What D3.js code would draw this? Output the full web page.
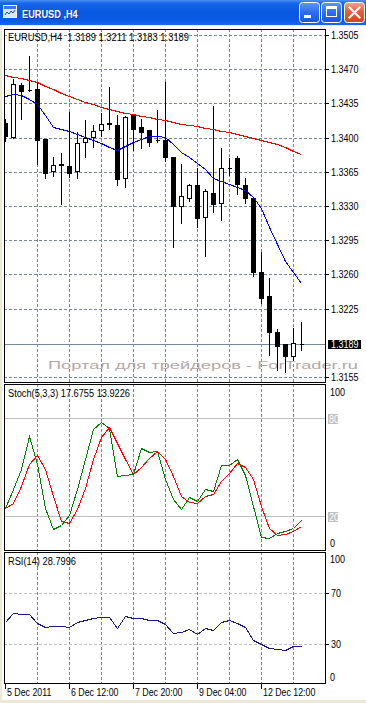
<!DOCTYPE html>
<html>
<head>
<meta charset="utf-8">
<script src="https://d3js.org/d3.v7.min.js"></script>
<style>
  html, body { margin: 0; padding: 0; background: #ece9d8; }
  svg { display: block; }
  text { font-family: 'Liberation Sans', Arial, sans-serif; font-size: 10px; white-space: pre; }
  .ind { shape-rendering: crispEdges; }
</style>
</head>
<body>
<svg id="chart" width="366" height="703"></svg>
<script>
// EURUSD H4 - MetaTrader style window

const symbol = 'EURUSD';
const period = 'H4';

const times = [
  '2011.12.05 04:00', '2011.12.05 08:00', '2011.12.05 12:00', '2011.12.05 16:00', '2011.12.05 20:00',
  '2011.12.06 00:00', '2011.12.06 04:00', '2011.12.06 08:00', '2011.12.06 12:00', '2011.12.06 16:00', '2011.12.06 20:00',
  '2011.12.07 00:00', '2011.12.07 04:00', '2011.12.07 08:00', '2011.12.07 12:00', '2011.12.07 16:00', '2011.12.07 20:00',
  '2011.12.08 00:00', '2011.12.08 04:00', '2011.12.08 08:00', '2011.12.08 12:00', '2011.12.08 16:00', '2011.12.08 20:00',
  '2011.12.09 00:00', '2011.12.09 04:00', '2011.12.09 08:00', '2011.12.09 12:00', '2011.12.09 16:00', '2011.12.09 20:00',
  '2011.12.12 00:00', '2011.12.12 04:00', '2011.12.12 08:00', '2011.12.12 12:00', '2011.12.12 16:00', '2011.12.12 20:00',
  '2011.12.13 00:00', '2011.12.13 04:00', '2011.12.13 08:00',
];

const open = [
  1.3415, 1.3401, 1.3454, 1.3449, 1.3450, 1.3399, 1.3366, 1.3373, 1.3371, 1.3366,
  1.3396, 1.3401, 1.3408, 1.3415, 1.3413, 1.3359, 1.3423, 1.3411, 1.3408, 1.3398,
  1.3398, 1.3380, 1.3330, 1.3338, 1.3352, 1.3319, 1.3343, 1.3333, 1.3369, 1.3379,
  1.3352, 1.3338, 1.3262, 1.3238, 1.3201, 1.3189, 1.3176, 1.3189,
];
const high = [
  1.3419, 1.3460, 1.3456, 1.3484, 1.3456, 1.3399, 1.3380, 1.3384, 1.3426, 1.3406,
  1.3418, 1.3413, 1.3425, 1.3452, 1.3423, 1.3422, 1.3424, 1.3419, 1.3408, 1.3428,
  1.3457, 1.3380, 1.3373, 1.3353, 1.3369, 1.3347, 1.3432, 1.3389, 1.3379, 1.3381,
  1.3359, 1.3338, 1.3283, 1.3256, 1.3204, 1.3189, 1.3205, 1.3211,
];
const low = [
  1.3397, 1.3400, 1.3419, 1.3448, 1.3373, 1.3359, 1.3361, 1.3332, 1.3360, 1.3359,
  1.3380, 1.3390, 1.3402, 1.3409, 1.3351, 1.3349, 1.3387, 1.3389, 1.3391, 1.3396,
  1.3376, 1.3288, 1.3313, 1.3335, 1.3308, 1.3279, 1.3324, 1.3316, 1.3362, 1.3342,
  1.3333, 1.3258, 1.3231, 1.3178, 1.3162, 1.3160, 1.3172, 1.3183,
];
const close = [
  1.3402, 1.3455, 1.3448, 1.3449, 1.3398, 1.3364, 1.3372, 1.3372, 1.3364, 1.3394,
  1.3400, 1.3407, 1.3414, 1.3414, 1.3358, 1.3421, 1.3409, 1.3406, 1.3396, 1.3398,
  1.3380, 1.3330, 1.3340, 1.3351, 1.3318, 1.3345, 1.3332, 1.3369, 1.3369, 1.3353,
  1.3338, 1.3262, 1.3236, 1.3201, 1.3187, 1.3177, 1.3190, 1.3189,
];

// moving averages on the price chart
const maFast = [
  1.3443, 1.3445, 1.3444, 1.3440, 1.3434, 1.3423, 1.3411, 1.3409, 1.3407, 1.3404,
  1.3401, 1.3398, 1.3394, 1.3390, 1.3387, 1.3391, 1.3395, 1.3399, 1.3402, 1.3402,
  1.3401, 1.3393, 1.3385, 1.3380, 1.3374, 1.3368, 1.3359, 1.3356, 1.3353, 1.3349,
  1.3346, 1.3339, 1.3328, 1.3308, 1.3291, 1.3274, 1.3262, 1.3251,
];
const maSlow = [
  1.3464, 1.3462, 1.3461, 1.3459, 1.3457, 1.3453, 1.3450, 1.3446, 1.3443, 1.3439,
  1.3436, 1.3434, 1.3431, 1.3429, 1.3427, 1.3425, 1.3424, 1.3422, 1.3421, 1.3419,
  1.3418, 1.3416, 1.3414, 1.3413, 1.3412, 1.3410, 1.3409, 1.3407, 1.3406, 1.3404,
  1.3402, 1.3400, 1.3398, 1.3396, 1.3393, 1.3390, 1.3386, 1.3383,
];

const stochMain = [
  25.3, 36.4, 48.6, 68.8, 51.6, 25.3, 12.1, 14.7, 20.6, 36.4,
  54.7, 72.9, 77.3, 73.9, 44.5, 45.1, 45.9, 61.7, 59.3, 59.7,
  42.5, 30.7, 24.3, 31.6, 29.3, 36.4, 35.4, 51.0, 51.0, 55.1,
  44.9, 26.3, 7.6, 7.0, 9.7, 10.7, 13.1, 17.6755,
];
const stochSignal = [
  25.3, 27.9, 38.4, 51.6, 57.1, 48.6, 32.4, 17.2, 15.7, 24.3,
  37.4, 54.7, 68.4, 74.3, 64.8, 54.7, 45.5, 50.2, 55.3, 59.7,
  54.7, 44.5, 32.4, 28.7, 27.9, 32.4, 33.4, 41.5, 46.5, 52.2,
  50.2, 42.5, 26.3, 13.1, 8.7, 9.1, 11.1, 13.9226,
];
const rsi = [
  47.5, 54.0, 53.2, 53.2, 46.3, 43.2, 44.2, 44.2, 43.4, 47.5,
  48.8, 50.6, 51.2, 51.2, 42.4, 52.2, 50.1, 50.1, 48.6, 48.6,
  45.5, 38.5, 39.8, 41.9, 38.0, 42.9, 40.8, 47.5, 48.6, 46.3,
  43.7, 33.3, 30.2, 27.4, 26.1, 25.3, 28.7, 28.7996,
];

const priceTicks = [1.3505, 1.3470, 1.3435, 1.3400, 1.3365, 1.3330, 1.3295, 1.3260, 1.3225, 1.3155];
const gridTimes = [
  '2011.12.05 20:00', '2011.12.06 12:00', '2011.12.07 04:00', '2011.12.07 20:00', '2011.12.08 12:00',
  '2011.12.09 04:00', '2011.12.09 20:00', '2011.12.12 12:00', '2011.12.13 04:00',
];
const labelTimes = ['2011.12.05 04:00', '2011.12.06 12:00', '2011.12.07 20:00', '2011.12.09 04:00', '2011.12.12 12:00'];
const tickLabels = ['5 Dec 2011', '6 Dec 12:00', '7 Dec 20:00', '9 Dec 04:00', '12 Dec 12:00'];
const stochLevels = [80, 20];
const rsiLevels = [70, 30];

const GRID = '#778899';
const LEVEL = '#c0c0c0';
const FONT = "'Liberation Sans', Arial, sans-serif";

const svg = d3.select('#chart');
const defs = svg.append('defs');

// panel boxes
const P = {
  main: { x0: 4, x1: 325, y0: 29, y1: 382 },
  stoch: { x0: 4, x1: 325, y0: 384, y1: 550 },
  rsi: { x0: 4, x1: 325, y0: 552, y1: 683 },
};

// scales
const x = d3.scalePoint().domain(times).range([5, 301]);
const y = d3.scaleLinear().domain([1.3155, 1.3505]).rangeRound([377, 35]);
const ys = d3.scaleLinear().domain([0, 100]).rangeRound([549, 385]);
const yr = d3.scaleLinear().domain([0, 100]).rangeRound([683, 554]);

// squeeze Arial-ish text to look like Tahoma
function squeeze(sel, k) {
  sel.each(function() {
    const w = this.getComputedTextLength();
    d3.select(this).attr('textLength', w * k).attr('lengthAdjust', 'spacingAndGlyphs');
  });
}

// ---------- window chrome ----------
const tb = defs.append('linearGradient').attr('id', 'tb').attr('x1', 0).attr('y1', 0).attr('x2', 0).attr('y2', 1);
[[0, '#4b93f7'], [0.12, '#1a66ea'], [0.5, '#0857e2'], [0.85, '#0b5be8'], [1, '#1b68ee']].forEach(([o, c]) =>
  tb.append('stop').attr('offset', o).attr('stop-color', c));
const bg = defs.append('linearGradient').attr('id', 'btn').attr('x1', 0).attr('y1', 0).attr('x2', 0).attr('y2', 1);
[[0, '#5a9af8'], [0.5, '#2e6cf0'], [1, '#1b55d8']].forEach(([o, c]) =>
  bg.append('stop').attr('offset', o).attr('stop-color', c));
const cg = defs.append('linearGradient').attr('id', 'cls').attr('x1', 0).attr('y1', 0).attr('x2', 0).attr('y2', 1);
[[0, '#f0a68a'], [0.45, '#e2603d'], [1, '#cc4424']].forEach(([o, c]) =>
  cg.append('stop').attr('offset', o).attr('stop-color', c));

svg.append('rect').attr('width', 366).attr('height', 703).attr('fill', '#ece9d8');
svg.append('rect').attr('x', 2).attr('y', 26).attr('width', 364).attr('height', 674).attr('fill', '#fff');
svg.append('rect').attr('width', 366).attr('height', 25).attr('fill', 'url(#tb)');

// title icon
const icon = svg.append('g').attr('transform', 'translate(3,5)');
icon.append('rect').attr('x', 0.5).attr('y', 0.5).attr('width', 13).attr('height', 12).attr('fill', '#d8e6fb').attr('stroke', '#eef4ff');
icon.append('rect').attr('x', 1).attr('y', 1).attr('width', 12).attr('height', 3).attr('fill', '#3a78e6');
icon.append('path').attr('d', 'M2,10 L4,7 L6,9 L8,6 L10,8 L12,5').attr('fill', 'none').attr('stroke', '#1d4fb8').attr('stroke-width', 1);

svg.append('text').attr('x', 23).attr('y', 18.5).attr('fill', '#0a1a70').attr('opacity', 0.6)
  .attr('font-size', 13).attr('font-weight', 'bold').text(`${symbol} ,${period}`).call(squeeze, 0.92);
svg.append('text').attr('x', 22).attr('y', 17.5).attr('fill', '#fff')
  .attr('font-size', 13).attr('font-weight', 'bold').text(`${symbol} ,${period}`).call(squeeze, 0.92);

const btns = svg.append('g');
[299, 321].forEach(bx => {
  btns.append('rect').attr('x', bx + 0.5).attr('y', 2.5).attr('width', 20).attr('height', 20).attr('rx', 3)
    .attr('fill', 'url(#btn)').attr('stroke', '#fff');
});
btns.append('rect').attr('x', 344.5).attr('y', 2.5).attr('width', 20).attr('height', 20).attr('rx', 3)
  .attr('fill', 'url(#cls)').attr('stroke', '#fff');
btns.append('rect').attr('x', 304).attr('y', 15).attr('width', 7).attr('height', 3).attr('fill', '#fff');
btns.append('rect').attr('x', 326.5).attr('y', 6.5).attr('width', 10).attr('height', 10).attr('fill', 'none').attr('stroke', '#fff');
btns.append('rect').attr('x', 326).attr('y', 6).attr('width', 11).attr('height', 3).attr('fill', '#fff');
btns.append('path').attr('d', 'M349.5,7.5 L359.5,17.5 M359.5,7.5 L349.5,17.5')
  .attr('stroke', '#fff').attr('stroke-width', 2.2).attr('stroke-linecap', 'square');

// ---------- panels ----------
Object.entries(P).forEach(([k, p]) => {
  defs.append('clipPath').attr('id', `clip-${k}`)
    .append('rect').attr('x', p.x0 + 1).attr('y', p.y0 + 1).attr('width', p.x1 - p.x0 - 1).attr('height', p.y1 - p.y0 - 1);
});

function vgrid(p, key) {
  svg.append('g').attr('clip-path', `url(#clip-${key})`)
    .selectAll('line').data(gridTimes).join('line')
    .attr('x1', d => x(d) + 0.5).attr('x2', d => x(d) + 0.5)
    .attr('y1', p.y0).attr('y2', p.y1)
    .attr('stroke', GRID).attr('stroke-dasharray', '3,2');
}

// main price panel
const pm = P.main;
svg.append('g').attr('clip-path', 'url(#clip-main)')
  .selectAll('line').data(priceTicks).join('line')
  .attr('x1', pm.x0).attr('x2', pm.x1)
  .attr('y1', d => y(d) + 0.5).attr('y2', d => y(d) + 0.5)
  .attr('stroke', GRID).attr('stroke-dasharray', '3,2');
vgrid(pm, 'main');

// watermark
svg.append('text').attr('x', 48).attr('y', 368.5)
  .attr('font-family', "'DejaVu Sans', sans-serif").attr('font-size', 16).attr('fill', '#b3a8a8')
  .attr('textLength', 310).attr('lengthAdjust', 'spacingAndGlyphs')
  .text('Портал для трейдеров - ForTrader.ru');

// current price line
const last = times.length - 1;
svg.append('line').attr('x1', pm.x0).attr('x2', pm.x1)
  .attr('y1', y(close[last]) + 0.5).attr('y2', y(close[last]) + 0.5).attr('stroke', GRID);

const chartG = svg.append('g').attr('clip-path', 'url(#clip-main)');
const bars = times.map((t, i) => ({ t, o: open[i], h: high[i], l: low[i], c: close[i] }));

chartG.selectAll('line.wick').data(bars).join('line').attr('class', 'wick')
  .attr('x1', d => x(d.t) + 0.5).attr('x2', d => x(d.t) + 0.5)
  .attr('y1', d => y(d.h)).attr('y2', d => y(d.l) + 1)
  .attr('stroke', '#000').attr('shape-rendering', 'crispEdges');

chartG.selectAll('path.body').data(bars).join('path').attr('class', 'body')
  .attr('d', d => {
    const top = y(Math.max(d.o, d.c)) + 0.5;
    const bot = y(Math.min(d.o, d.c)) + 0.5;
    const cx = x(d.t);
    return `M${cx - 1.5},${top}H${cx + 2.5}V${bot}H${cx - 1.5}Z`;
  })
  .attr('fill', d => (d.c > d.o ? '#fff' : '#000'))
  .attr('stroke', '#000').attr('shape-rendering', 'crispEdges');

const priceLine = vals => d3.line().x((d, i) => x(times[i]) + 0.5).y(d => y(d) + 0.5)(vals);
chartG.append('path').attr('class', 'ind').attr('d', priceLine(maSlow)).attr('fill', 'none').attr('stroke', '#ff0000');
chartG.append('path').attr('class', 'ind').attr('d', priceLine(maFast)).attr('fill', 'none').attr('stroke', '#0000ff');

// price axis
const yAxis = d3.axisRight(y).tickValues(priceTicks).tickFormat(d3.format('.4f')).tickSize(3).tickPadding(2);
svg.append('g').attr('transform', `translate(${pm.x1 + 1},0)`).call(yAxis)
  .attr('font-family', FONT)
  .call(g => g.select('.domain').remove())
  .call(g => g.selectAll('line').attr('stroke', '#000'))
  .call(g => g.selectAll('text').attr('fill', '#000').call(squeeze, 0.9));

// current price tag
const tagY = y(close[last]);
svg.append('rect').attr('x', 328).attr('y', tagY - 4).attr('width', 33).attr('height', 9).attr('fill', '#000');
svg.append('text').attr('x', 331).attr('y', tagY + 0.5).attr('dy', '0.35em').attr('fill', '#fff')
  .text(close[last].toFixed(4)).call(squeeze, 0.9);

svg.append('text').attr('x', 8).attr('y', 40.5)
  .text(`${symbol},${period}  ${open[last].toFixed(4)} ${high[last].toFixed(4)} ${low[last].toFixed(4)} ${close[last].toFixed(4)}`)
  .attr('textLength', 181).attr('lengthAdjust', 'spacingAndGlyphs');

// stochastic panel
const pst = P.stoch;
vgrid(pst, 'stoch');
svg.append('g').selectAll('line').data(stochLevels).join('line')
  .attr('x1', pst.x0).attr('x2', pst.x1)
  .attr('y1', d => ys(d) + 0.5).attr('y2', d => ys(d) + 0.5).attr('stroke', LEVEL);
const stG = svg.append('g').attr('clip-path', 'url(#clip-stoch)');
const stLine = d3.line().x((d, i) => x(times[i]) + 0.5).y(d => ys(d) + 0.5);
stG.append('path').attr('class', 'ind').attr('d', stLine(stochSignal)).attr('fill', 'none').attr('stroke', '#ff0000');
stG.append('path').attr('class', 'ind').attr('d', stLine(stochMain)).attr('fill', 'none').attr('stroke', '#008000');

svg.append('text').attr('x', 330).attr('y', ys(100) + 7).attr('dy', '0.35em').text('100').call(squeeze, 0.9);
svg.append('text').attr('x', 330).attr('y', ys(0) - 6).attr('dy', '0.35em').text('0').call(squeeze, 0.9);
stochLevels.forEach(v => {
  svg.append('rect').attr('x', 328).attr('y', ys(v) - 4).attr('width', 10).attr('height', 10).attr('fill', LEVEL);
  svg.append('text').attr('x', 329).attr('y', ys(v) + 1).attr('dy', '0.35em').attr('fill', '#fff')
    .text(v).call(squeeze, 0.9);
});
svg.append('text').attr('x', 8).attr('y', 396.5)
  .text(`Stoch(5,3,3) ${stochMain[last].toFixed(4)} ${stochSignal[last].toFixed(4)}`)
  .attr('textLength', 122).attr('lengthAdjust', 'spacingAndGlyphs');

// RSI panel
const pr = P.rsi;
vgrid(pr, 'rsi');
svg.append('g').selectAll('line').data(rsiLevels).join('line')
  .attr('x1', pr.x0).attr('x2', pr.x1)
  .attr('y1', d => yr(d) + 0.5).attr('y2', d => yr(d) + 0.5)
  .attr('stroke', LEVEL).attr('stroke-dasharray', '3,2');
svg.append('g').attr('clip-path', 'url(#clip-rsi)').append('path').attr('class', 'ind')
  .attr('d', d3.line().x((d, i) => x(times[i]) + 0.5).y(d => yr(d) + 0.5)(rsi))
  .attr('fill', 'none').attr('stroke', '#1c1c84');

const rAxis = d3.axisRight(yr).tickValues(rsiLevels).tickSize(3).tickPadding(2);
svg.append('g').attr('transform', `translate(${pr.x1 + 1},0)`).call(rAxis)
  .attr('font-family', FONT)
  .call(g => g.select('.domain').remove())
  .call(g => g.selectAll('line').attr('stroke', '#000'))
  .call(g => g.selectAll('text').attr('fill', '#000').call(squeeze, 0.9));
svg.append('text').attr('x', 330).attr('y', yr(100) + 5).attr('dy', '0.35em').text('100').call(squeeze, 0.9);
svg.append('text').attr('x', 330).attr('y', yr(0) - 6).attr('dy', '0.35em').text('0').call(squeeze, 0.9);
svg.append('text').attr('x', 8).attr('y', 565)
  .text(`RSI(14) ${rsi[last].toFixed(4)}`)
  .attr('textLength', 68).attr('lengthAdjust', 'spacingAndGlyphs');

// time axis
const xAxis = d3.axisBottom(x).tickValues(labelTimes).tickFormat((d, i) => tickLabels[i]).tickSize(5).tickPadding(0);
svg.append('g').attr('transform', `translate(0,${pr.y1 + 1})`).call(xAxis)
  .attr('font-family', FONT)
  .call(g => g.select('.domain').remove())
  .call(g => g.selectAll('line').attr('stroke', '#000'))
  .call(g => g.selectAll('text').attr('fill', '#000').attr('text-anchor', 'start').attr('x', 1.5).call(squeeze, 0.88));

// frames on top
Object.values(P).forEach(p => {
  svg.append('rect').attr('x', p.x0 + 0.5).attr('y', p.y0 + 0.5)
    .attr('width', p.x1 - p.x0).attr('height', p.y1 - p.y0)
    .attr('fill', 'none').attr('stroke', '#000');
});
</script>
</body>
</html>
